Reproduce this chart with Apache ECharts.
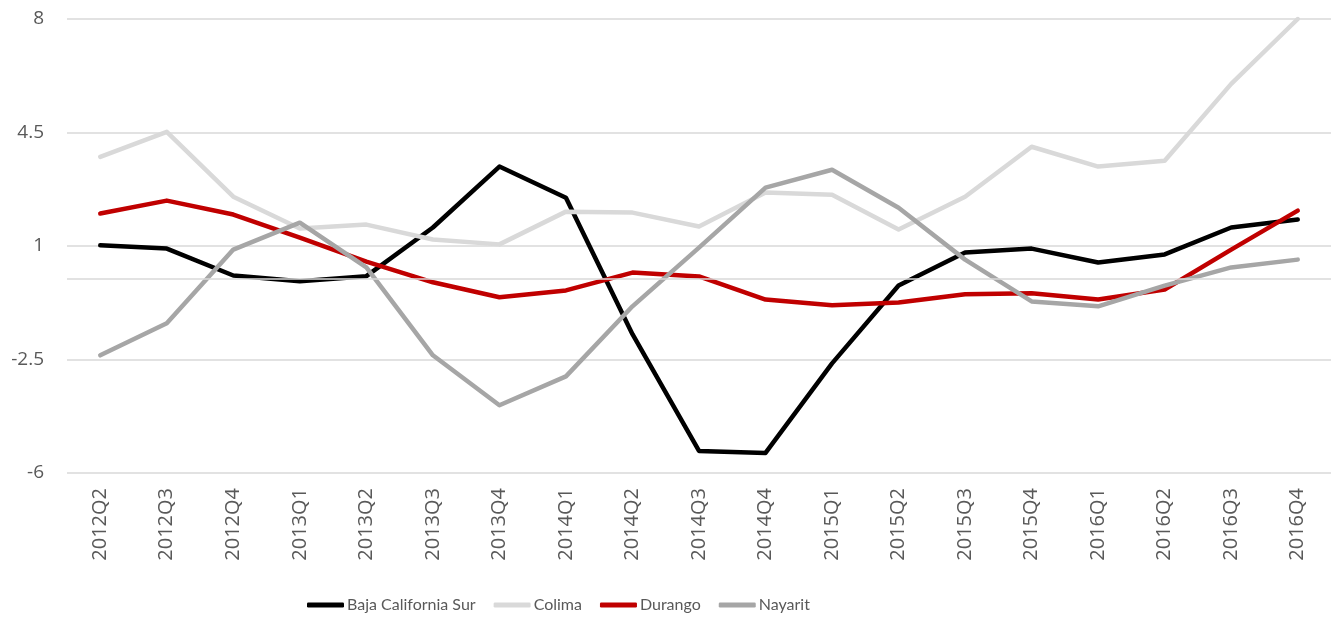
<!DOCTYPE html>
<html>
<head>
<meta charset="utf-8">
<script src="https://cdn.jsdelivr.net/npm/echarts@6/dist/echarts.min.js"></script>
<style>
  html, body { margin: 0; padding: 0; background: #fff; }
  #chart { width: 1336px; height: 621px; }
</style>
</head>
<body>
<div id="chart"></div>
<script>
// quarters on the x axis
const quarters = ['2012Q2','2012Q3','2012Q4','2013Q1','2013Q2','2013Q3','2013Q4','2014Q1','2014Q2','2014Q3',
  '2014Q4','2015Q1','2015Q2','2015Q3','2015Q4','2016Q1','2016Q2','2016Q3','2016Q4']

const bajaCaliforniaSur = [1.02, 0.92, 0.09, -0.09, 0.07, 1.57, 3.45, 2.49, -1.72, -5.32,
  -5.38, -2.62, -0.22, 0.80, 0.92, 0.49, 0.74, 1.57, 1.82]
const colima = [3.75, 4.52, 2.52, 1.54, 1.66, 1.20, 1.05, 2.06, 2.03, 1.60,
  2.65, 2.58, 1.51, 2.52, 4.06, 3.45, 3.63, 6.00, 8.00]
const durango = [2.00, 2.40, 1.97, 1.26, 0.52, -0.12, -0.58, -0.37, 0.18, 0.06,
  -0.65, -0.83, -0.74, -0.49, -0.46, -0.65, -0.34, 0.89, 2.09]
const nayarit = [-2.37, -1.38, 0.89, 1.72, 0.34, -2.37, -3.91, -3.02, -0.86, 0.95,
  2.80, 3.35, 2.18, 0.58, -0.71, -0.86, -0.22, 0.34, 0.58]

const yTicks = { min: -6, max: 8, step: 3.5 }

const font = 'Open Sans, sans-serif'
const textColor = '#595959'
const gridColor = '#d9d9d9'

const chart = echarts.init(document.getElementById('chart'))

function mkLine(name, data, color) {
  return {
    name, type: 'line', data,
    symbol: 'none',
    lineStyle: { color, width: 4.5, cap: 'round', join: 'round' },
    itemStyle: { color },
    emphasis: { disabled: true },
    z: 3
  }
}

chart.setOption({
  animation: false,
  textStyle: { fontFamily: font },
  grid: { left: 67, right: 5, top: 19, bottom: 148, containLabel: false, outerBoundsMode: 'none' },
  legend: {
    bottom: 3,
    left: 302,
    icon: 'roundRect',
    itemWidth: 37,
    itemHeight: 5,
    itemGap: 18,
    textStyle: { color: textColor, fontSize: 16, fontFamily: 'Lato, sans-serif', padding: [0, 0, 0, -2] },
    data: ['Baja California Sur', 'Colima', 'Durango', 'Nayarit']
  },
  xAxis: {
    type: 'category',
    data: quarters,
    boundaryGap: true,
    axisLine: { show: false, onZero: false },
    axisTick: { show: false },
    axisLabel: { rotate: 90, margin: 15, color: textColor, fontSize: 20, fontFamily: font, interval: 0 }
  },
  yAxis: {
    type: 'value',
    min: yTicks.min,
    max: yTicks.max,
    interval: yTicks.step,
    axisLine: { show: false },
    axisTick: { show: false },
    splitLine: { lineStyle: { color: gridColor, width: 1.5 } },
    axisLabel: { margin: 23, color: textColor, fontSize: 19, fontFamily: font }
  },
  series: [
    mkLine('Baja California Sur', bajaCaliforniaSur, '#000000'),
    mkLine('Colima', colima, '#d9d9d9'),
    mkLine('Durango', durango, '#c00000'),
    mkLine('Nayarit', nayarit, '#a6a6a6'),
    {
      // zero line (horizontal axis in the original)
      name: 'zero', type: 'line', data: [], z: 1, silent: true,
      markLine: {
        silent: true, symbol: 'none', label: { show: false },
        lineStyle: { color: gridColor, width: 1.5, type: 'solid' },
        data: [{ yAxis: 0 }]
      }
    }
  ]
})
</script>
</body>
</html>
